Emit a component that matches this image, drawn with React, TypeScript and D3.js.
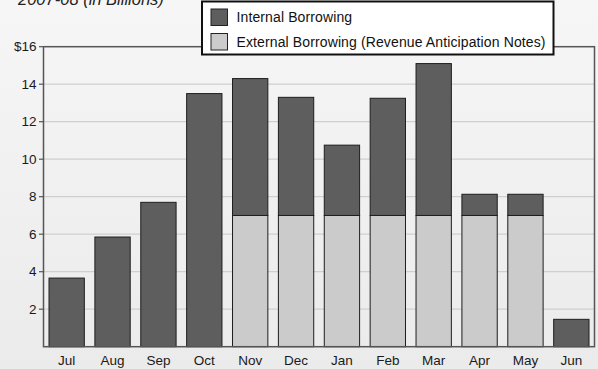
import React from "react";
import * as d3 from "d3";

const months = ["Jul", "Aug", "Sep", "Oct", "Nov", "Dec", "Jan", "Feb", "Mar", "Apr", "May", "Jun"];
const internalBorrowing = [3.66, 5.85, 7.7, 13.5, 7.3, 6.3, 3.75, 6.25, 8.1, 1.13, 1.13, 1.46];
const externalBorrowing = [0, 0, 0, 0, 7, 7, 7, 7, 7, 7, 7, 0];
const yTicks = [2, 4, 6, 8, 10, 12, 14, 16];
const legendLabels = ["Internal Borrowing", "External Borrowing (Revenue Anticipation Notes)"];
const title = "2007-08 (in Billions)";

const W = 598;
const H = 369;
const left = 43.5;
const right = 594.5;
const top = 46.7;
const bottom = 346.7;

const DARK = "#5e5e5e";
const LIGHT = "#cbcbcb";
const FONT = "'Liberation Sans', Arial, Helvetica, sans-serif";

export default function App() {
  const x = d3.scaleBand<string>().domain(months).range([left, right]).paddingInner(0.23).paddingOuter(0.12);
  const y = d3.scaleLinear().domain([0, 16]).range([bottom, top]);

  const rows = months.map((m, i) => ({ m, ext: externalBorrowing[i], int: internalBorrowing[i] }));

  return (
    <svg width={W} height={H} style={{ position: "absolute", left: 0, top: 0 }} fontFamily={FONT}>
      <defs>
        <linearGradient id="bg" x1="0" y1="0" x2="0" y2="1">
          <stop offset="0" stopColor="#f6f6f6" />
          <stop offset="1" stopColor="#ebebeb" />
        </linearGradient>
      </defs>
      <rect x={0} y={0} width={W} height={H} fill="url(#bg)" />
      <text x={18} y={5} fontSize={16.5} fontStyle="italic" fill="#222">{title}</text>

      {yTicks.map((t) => (
        <g key={t}>
          {t < 16 && <line x1={left} x2={right} y1={y(t)} y2={y(t)} stroke="#cfcfcf" strokeWidth={1.2} />}
          <line x1={left - 4.5} x2={left} y1={y(t)} y2={y(t)} stroke="#555" strokeWidth={1.2} />
          <text x={36.5} y={y(t)} dy="0.35em" textAnchor="end" fontSize={13.5} fill="#1a1a1a">
            {t === 16 ? "$16" : t}
          </text>
        </g>
      ))}

      {rows.map((r) => {
        const bx = x(r.m)!;
        const bw = x.bandwidth();
        return (
          <g key={r.m}>
            {r.ext > 0 && (
              <rect x={bx} y={y(r.ext)} width={bw} height={y(0) - y(r.ext)} fill={LIGHT} stroke="#1e1e1e" strokeWidth={1} />
            )}
            <rect x={bx} y={y(r.ext + r.int)} width={bw} height={y(r.ext) - y(r.ext + r.int)} fill={DARK} stroke="#1e1e1e" strokeWidth={1} />
            <text x={bx + bw / 2} y={364.5} textAnchor="middle" fontSize={13.5} fill="#1a1a1a">{r.m}</text>
          </g>
        );
      })}

      <rect x={left} y={top} width={right - left} height={bottom - top} fill="none" stroke="#555" strokeWidth={1.5} />

      <g>
        <rect x={202} y={1.5} width={351.5} height={53} fill="#ffffff" stroke="#111" strokeWidth={2} />
        {legendLabels.map((l, i) => (
          <g key={l}>
            <rect x={211} y={9 + i * 24.5} width={16.5} height={16.5} fill={i === 0 ? DARK : LIGHT} stroke="#222" strokeWidth={1} />
            <text x={236.5} y={17.5 + i * 24.5} dy="0.35em" fontSize={14} letterSpacing={0.12} fill="#111">{l}</text>
          </g>
        ))}
      </g>
    </svg>
  );
}
